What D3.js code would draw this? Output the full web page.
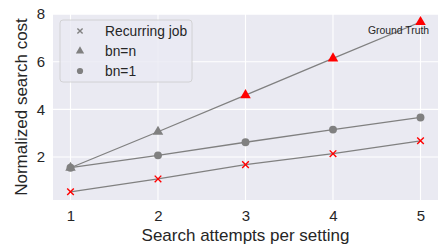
<!DOCTYPE html>
<html>
<head>
<meta charset="utf-8">
<script src="https://cdn.jsdelivr.net/npm/d3@7"></script>
<style>
  html, body { margin: 0; padding: 0; background: #fff; }
  svg { display: block; font-family: "Liberation Sans", Arial, sans-serif; }
</style>
</head>
<body>
<div id="chart"></div>
<script>
// data
const attempts = [1, 2, 3, 4, 5];
const recurringJob = [0.54, 1.08, 1.68, 2.14, 2.68];
const bnN = [1.55, 3.06, 4.6, 6.14, 7.67];
const bn1 = [1.55, 2.07, 2.62, 3.15, 3.66];
// which points are marked red ("ground truth") per series
const recurringRed = [true, true, true, true, true];
const bnNRed = [false, false, true, true, true];
const bn1Red = [false, false, false, false, false];
const yTicks = [2, 4, 6, 8];

const W = 445, H = 249;
const margin = { top: 14, right: 7, bottom: 49, left: 53 };
const iw = W - margin.left - margin.right;
const ih = H - margin.top - margin.bottom;

const x = d3.scaleLinear().domain([0.8, 5.2]).range([0, iw]);
const y = d3.scaleLinear().domain([0.195, 8.005]).range([ih, 0]);

const svg = d3.select('#chart').append('svg')
  .attr('width', W).attr('height', H);

const g = svg.append('g').attr('transform', `translate(${margin.left},${margin.top})`);

g.append('rect').attr('width', iw).attr('height', ih).attr('fill', '#eaeaf2');

// grid
g.append('g').selectAll('line').data(attempts).join('line')
  .attr('x1', d => x(d)).attr('x2', d => x(d))
  .attr('y1', 0).attr('y2', ih)
  .attr('stroke', '#fff').attr('stroke-width', 1.1);
g.append('g').selectAll('line').data(yTicks).join('line')
  .attr('x1', 0).attr('x2', iw)
  .attr('y1', d => y(d)).attr('y2', d => y(d))
  .attr('stroke', '#fff').attr('stroke-width', 1.1);

// axes (labels only, seaborn style)
const xAxis = g.append('g').attr('transform', `translate(0,${ih})`)
  .call(d3.axisBottom(x).tickValues(attempts).tickFormat(d3.format('d')).tickSize(0).tickPadding(10));
const yAxis = g.append('g')
  .call(d3.axisLeft(y).tickValues(yTicks).tickFormat(d3.format('d')).tickSize(0).tickPadding(8));
[xAxis, yAxis].forEach(a => {
  a.select('.domain').remove();
  a.selectAll('text').attr('fill', '#262626').style('font-size', '15px')
    .style('font-family', '"Liberation Sans", Arial, sans-serif');
});

svg.append('text')
  .attr('x', margin.left + iw / 2).attr('y', 241)
  .attr('text-anchor', 'middle').attr('fill', '#262626')
  .style('font-size', '17px')
  .text('Search attempts per setting');
svg.append('text')
  .attr('transform', `translate(27,${margin.top + ih / 2}) rotate(-90)`)
  .attr('text-anchor', 'middle').attr('fill', '#262626')
  .style('font-size', '17px')
  .text('Normalized search cost');

const lineGen = d3.line().x((d, i) => x(attempts[i])).y(d => y(d));
const series = [
  { name: 'Recurring job', vals: recurringJob, red: recurringRed, marker: 'x' },
  { name: 'bn=n', vals: bnN, red: bnNRed, marker: 'tri' },
  { name: 'bn=1', vals: bn1, red: bn1Red, marker: 'circle' }
];

const grey = '#808080';
function drawMarker(sel, type, color, size) {
  if (type === 'x') {
    const s = size;
    sel.append('path').attr('d', `M${-s},${-s}L${s},${s}M${-s},${s}L${s},${-s}`)
      .attr('stroke', color).attr('stroke-width', 1.4).attr('fill', 'none');
  } else if (type === 'tri') {
    sel.append('path').attr('d', d3.symbol().type(d3.symbolTriangle).size(size * size * 4.4)())
      .attr('fill', color);
  } else {
    sel.append('circle').attr('r', size * 1.2).attr('fill', color);
  }
}

series.forEach(s => {
  g.append('path').datum(s.vals).attr('d', lineGen)
    .attr('fill', 'none').attr('stroke', grey).attr('stroke-width', 1.3);
});
series.forEach(s => {
  s.vals.forEach((v, i) => {
    const m = g.append('g').attr('transform', `translate(${x(attempts[i])},${y(v)})`);
    drawMarker(m, s.marker, s.red[i] ? '#ff0000' : grey, 3.3);
  });
});

g.append('text')
  .attr('x', x(5) - 22).attr('y', y(bnN[4]) + 12)
  .attr('text-anchor', 'middle').attr('fill', '#262626')
  .style('font-size', '10.4px')
  .text('Ground Truth');

// legend
const lg = svg.append('g').attr('transform', 'translate(60,20)');
lg.append('rect').attr('width', 132).attr('height', 62).attr('rx', 3)
  .attr('fill', '#eaeaf2').attr('fill-opacity', 0.8)
  .attr('stroke', '#cccccc').attr('stroke-width', 0.8);
series.forEach((s, i) => {
  const row = lg.append('g').attr('transform', `translate(0,${11 + i * 20})`);
  const m = row.append('g').attr('transform', 'translate(20,0)');
  drawMarker(m, s.marker, grey, 2.6);
  row.append('text').attr('x', 45).attr('y', 0).attr('dy', '0.35em')
    .attr('fill', '#262626').style('font-size', '13.8px').text(s.name);
});
</script>
</body>
</html>
